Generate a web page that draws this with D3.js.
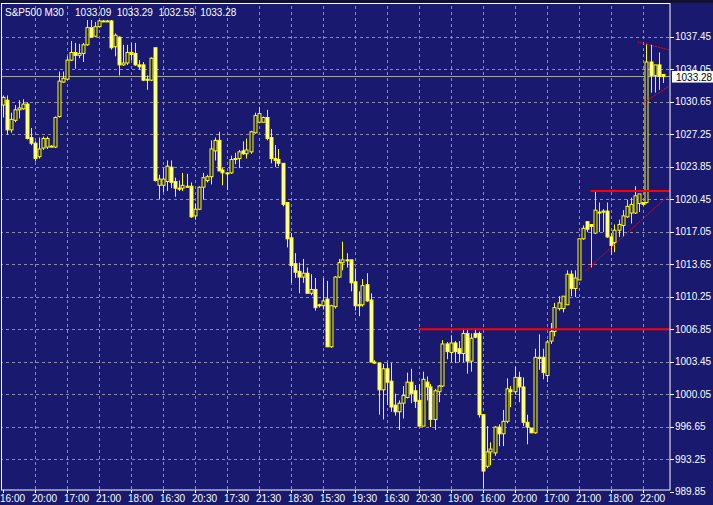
<!DOCTYPE html>
<html><head><meta charset="utf-8">
<script src="https://d3js.org/d3.v7.min.js"></script>
<style>body{margin:0;background:#000;}svg{display:block;font-family:"Liberation Sans",Arial,sans-serif;}</style>
</head><body>
<script>
const symbolTitle = "S&P500 M30";
const lastBarValues = ["1033.09","1033.29","1032.59","1033.28"];
const timeLabels = ["16:00","20:00","17:00","21:00","18:00","16:30","20:30","17:30","21:30","18:30","15:30","19:30","16:30","20:30","19:00","16:00","20:00","17:00","21:00","18:00","22:00"];
const priceTicks = [1037.45,1034.05,1030.65,1027.25,1023.85,1020.45,1017.05,1013.65,1010.25,1006.85,1003.45,1000.05,996.65,993.25,989.85];
const lastPrice = 1033.28;
const opens = [1030.3,1030.8,1027.7,1028.7,1029.8,1029.9,1030.4,1026.9,1026.3,1024.9,1025.8,1025.9,1026.0,1025.9,1029.1,1032.7,1033.0,1035.0,1035.8,1035.5,1035.7,1036.6,1038.4,1037.5,1038.5,1039.1,1039.1,1039.1,1036.4,1037.4,1034.5,1034.7,1035.8,1035.7,1034.5,1034.5,1033.0,1032.9,1036.3,1021.9,1021.9,1022.3,1023.8,1022.3,1021.6,1021.6,1021.8,1021.8,1018.7,1019.4,1021.7,1022.4,1022.8,1025.5,1026.6,1023.5,1023.2,1023.2,1024.7,1024.7,1025.5,1025.2,1025.4,1027.4,1028.5,1028.5,1029.0,1026.9,1024.7,1024.6,1024.2,1020.1,1016.4,1013.7,1012.9,1012.3,1012.7,1010.6,1011.0,1009.4,1009.3,1010.0,1005.0,1009.2,1012.3,1013.8,1014.1,1014.1,1011.8,1009.4,1009.4,1011.5,1009.9,1003.4,1003.3,1000.5,1002.7,1001.4,998.9,998.2,999.1,999.7,1001.3,1000.4,999.4,996.7,1001.3,1000.8,997.4,1000.3,1000.9,1005.3,1004.4,1005.4,1004.8,1004.3,1006.4,1003.5,1006.4,1006.4,997.9,992.5,994.0,993.9,996.6,995.9,997.2,1000.5,1000.3,1001.8,1000.8,997.1,996.5,996.0,1003.9,1003.9,1002.0,1005.6,1006.6,1009.0,1009.0,1009.4,1012.6,1011.1,1012.0,1016.3,1018.1,1017.8,1016.9,1019.1,1019.2,1019.2,1016.5,1015.9,1017.2,1017.7,1018.6,1019.0,1019.0,1020.0,1020.1,1020.1,1034.8,1033.4,1034.5,1033.5];
const highs = [1031.3,1031.3,1029.5,1030.3,1030.8,1030.9,1030.6,1027.9,1026.5,1026.9,1027.0,1027.0,1026.1,1029.1,1033.8,1033.8,1035.4,1037.0,1036.8,1036.7,1036.8,1039.2,1039.2,1039.0,1039.2,1039.2,1039.2,1039.2,1037.8,1037.5,1036.6,1036.6,1036.8,1036.8,1035.0,1034.8,1033.4,1035.3,1036.3,1023.0,1023.7,1024.5,1024.5,1022.7,1022.4,1023.2,1023.1,1022.2,1020.0,1021.8,1023.2,1023.0,1026.6,1026.9,1027.5,1023.7,1023.3,1025.0,1025.3,1025.6,1026.5,1026.8,1027.6,1029.5,1030.1,1029.1,1029.8,1027.8,1026.1,1025.7,1024.2,1020.1,1016.9,1014.8,1013.8,1014.2,1013.3,1012.6,1012.2,1009.5,1012.2,1011.9,1009.4,1012.4,1014.2,1016.0,1014.8,1014.1,1013.2,1010.8,1012.1,1012.7,1010.6,1003.6,1003.3,1003.2,1003.3,1003.3,1000.1,999.4,1000.9,1002.3,1002.7,1001.0,1001.1,1002.4,1001.9,1001.1,1000.6,1001.0,1005.7,1005.5,1006.2,1005.6,1005.6,1006.9,1006.9,1006.4,1006.9,1006.6,997.9,996.7,995.0,996.7,996.9,998.4,1001.7,1000.9,1002.9,1002.4,1001.8,997.9,996.5,1004.8,1006.3,1004.8,1005.7,1007.5,1009.6,1010.3,1010.3,1013.0,1013.0,1013.0,1016.3,1017.7,1018.1,1017.8,1021.3,1020.1,1019.4,1020.1,1016.9,1017.8,1018.3,1019.3,1020.4,1020.6,1021.8,1021.0,1020.1,1036.7,1036.6,1034.5,1035.8,1033.5];
const lows = [1029.0,1027.2,1027.4,1028.5,1028.9,1029.8,1026.7,1026.1,1024.4,1024.7,1025.6,1025.7,1025.9,1025.8,1029.0,1032.6,1032.9,1034.9,1034.1,1035.2,1034.8,1036.5,1037.3,1037.4,1038.4,1039.0,1039.0,1036.1,1035.4,1033.4,1034.4,1034.5,1035.0,1034.4,1034.0,1032.8,1031.9,1032.8,1022.3,1020.4,1021.2,1021.3,1021.6,1020.7,1021.3,1021.3,1021.7,1018.5,1018.3,1019.3,1020.4,1022.2,1022.0,1024.5,1023.4,1021.9,1021.4,1023.1,1024.1,1023.7,1025.1,1024.7,1025.2,1027.3,1028.4,1028.5,1026.6,1024.2,1023.8,1023.9,1019.7,1015.4,1011.7,1012.2,1010.6,1011.7,1010.6,1010.4,1008.8,1009.1,1008.9,1005.0,1004.9,1009.0,1012.2,1013.0,1013.3,1010.8,1008.8,1008.2,1009.2,1009.7,1003.4,1003.2,997.9,997.4,998.9,998.2,997.8,996.3,997.5,999.6,999.1,998.6,996.7,996.7,999.4,996.6,996.3,999.2,1000.8,1003.7,1003.4,1003.3,1003.4,1003.4,1002.2,1002.4,1005.9,997.6,990.2,992.3,992.6,993.6,994.6,994.6,997.0,998.7,1000.0,999.2,996.7,994.8,996.0,995.9,1002.6,1001.6,1001.3,1005.3,1006.1,1008.8,1008.6,1009.4,1010.3,1010.2,1012.0,1016.2,1017.0,1013.3,1016.8,1017.0,1017.0,1016.4,1014.6,1014.9,1016.5,1016.5,1018.5,1017.9,1018.9,1019.1,1019.8,1020.0,1031.6,1031.6,1031.9,1032.6];
const closes = [1031.1,1027.7,1028.8,1029.8,1030.0,1030.4,1026.8,1026.3,1024.7,1025.7,1026.8,1026.8,1025.95,1029.0,1032.8,1033.1,1035.0,1035.8,1035.5,1035.7,1036.6,1038.4,1037.4,1038.5,1039.1,1039.1,1039.1,1036.3,1037.6,1034.5,1034.7,1035.8,1035.6,1034.5,1034.3,1032.9,1032.9,1035.2,1022.4,1022.55,1022.55,1023.9,1022.2,1021.6,1021.5,1021.9,1021.7,1018.6,1019.4,1021.7,1022.7,1022.8,1025.7,1026.6,1023.4,1023.2,1023.2,1024.6,1024.65,1025.4,1025.2,1025.6,1027.5,1029.2,1029.4,1029.0,1026.8,1024.7,1024.5,1024.2,1019.9,1016.3,1013.5,1012.8,1012.3,1012.7,1010.6,1011.0,1009.1,1009.3,1009.8,1005.0,1009.3,1012.3,1013.8,1014.1,1014.0,1011.7,1009.3,1009.3,1011.4,1009.8,1003.4,1003.3,1000.5,1002.7,1001.3,998.7,998.2,999.1,999.9,1001.3,1000.1,999.3,996.7,1001.6,1000.8,997.4,1000.4,1000.9,1005.3,1004.5,1005.4,1004.5,1004.3,1006.4,1003.5,1005.9,1006.0,997.9,992.0,994.0,994.3,996.6,995.9,997.2,1000.6,1000.3,1001.8,1000.8,997.1,996.6,996.0,1003.9,1003.85,1002.3,1005.5,1006.6,1009.1,1009.6,1010.3,1012.6,1011.1,1012.2,1016.3,1017.4,1017.3,1017.6,1019.3,1019.05,1019.1,1016.5,1015.6,1017.2,1017.8,1018.7,1019.7,1019.9,1020.8,1021.0,1019.9,1034.8,1033.4,1034.5,1033.3,1033.28];
// analyst lines: [barIndex1, price1, barIndex2, price2]
const supportLine = [104, 1006.85, 170, 1006.85];
const resistLine = [147, 1021.3, 170, 1021.3];
const trendLower = [145.75, 1012.95, 166.4, 1020.8];
const trendUpper2 = [159.75, 1030.4, 166.75, 1032.3];
const trendTop = [158.75, 1036.9, 166.75, 1036.06];

const W=713,H=505, plotR=670, plotB=490;
const svg=d3.select("body").append("svg").attr("width",W).attr("height",H);
svg.append("rect").attr("width",W).attr("height",H).attr("fill","#191970");
const y=d3.scaleLinear().domain([989.85,1037.45]).range([491.6,36.7]);
const x=d3.scaleLinear().domain([0,165]).range([2.5,662.5]);
svg.append("clipPath").attr("id","c").append("rect").attr("x",1).attr("y",1).attr("width",plotR-1).attr("height",plotB-1);
const g=svg.append("g").attr("clip-path","url(#c)");
priceTicks.forEach(p=>g.append("line").attr("x1",0).attr("x2",plotR).attr("y1",Math.round(y(p))+0.5).attr("y2",Math.round(y(p))+0.5).attr("stroke","#8c8ca8").attr("stroke-dasharray","3,3"));
timeLabels.forEach((t,k)=>{ if(k>0) g.append("line").attr("x1",Math.round(x(8*k))+0.5).attr("x2",Math.round(x(8*k))+0.5).attr("y1",0).attr("y2",plotB).attr("stroke","#8c8ca8").attr("stroke-dasharray","3,3");});
g.append("line").attr("x1",0).attr("x2",plotR).attr("y1",y(lastPrice)).attr("y2",y(lastPrice)).attr("stroke","#a8a8a0").attr("stroke-width",1);
opens.forEach((o,i)=>{
  const c=closes[i], xi=Math.round(x(i))+0.5;
  g.append("line").attr("x1",xi).attr("x2",xi).attr("y1",y(highs[i])).attr("y2",y(lows[i])).attr("stroke","#ffff00");
  const top=y(Math.max(o,c)), bot=y(Math.min(o,c));
  g.append("rect").attr("x",xi-1.5).attr("y",top).attr("width",3).attr("height",Math.max(1,bot-top))
   .attr("fill",c<o?"#ffffff":"#191970").attr("stroke","#ffff00").attr("stroke-width",1);
});
const seg=(a,w,dash)=>g.append("line").attr("x1",x(a[0])).attr("y1",y(a[1])).attr("x2",x(a[2])).attr("y2",y(a[3])).attr("stroke","#ff0000").attr("stroke-width",w).attr("stroke-dasharray",dash);
seg(supportLine,2,null); seg(resistLine,2,null); seg(trendLower,1,"2,1"); seg(trendUpper2,1,"2,1"); seg(trendTop,1,"2,1");
svg.append("rect").attr("x",1.5).attr("y",3.5).attr("width",plotR-1.5).attr("height",plotB-3.5).attr("fill","none").attr("stroke","#ffffff");
svg.append("rect").attr("x",0).attr("y",0).attr("width",W).attr("height",3).attr("fill","#111133");
priceTicks.forEach(p=>{
  const yy=Math.round(y(p))+0.5;
  svg.append("line").attr("x1",plotR).attr("x2",plotR+4).attr("y1",yy).attr("y2",yy).attr("stroke","#fff");
  svg.append("text").attr("x",675).attr("y",y(p)+3.5).attr("fill","#fff").attr("font-size","10px").text(p.toFixed(2));
});
svg.append("rect").attr("x",672).attr("y",y(lastPrice)-5.5).attr("width",41).attr("height",11.5).attr("fill","#fff");
svg.append("text").attr("x",676).attr("y",y(lastPrice)+4).attr("fill","#000").attr("font-size","10px").text(lastPrice.toFixed(2));
timeLabels.forEach((t,k)=>{
  svg.append("line").attr("x1",Math.round(x(8*k))+0.5).attr("x2",Math.round(x(8*k))+0.5).attr("y1",plotB).attr("y2",plotB+3).attr("stroke","#fff");
  svg.append("text").attr("x",x(8*k)-2.5).attr("y",502).attr("fill","#fff").attr("font-size","10px").text(t);
});
svg.append("text").attr("x",5).attr("y",16).attr("fill","#fff").attr("font-size","10px").attr("xml:space","preserve").text(symbolTitle+"    "+lastBarValues.join("  "));
</script>
</body></html>
